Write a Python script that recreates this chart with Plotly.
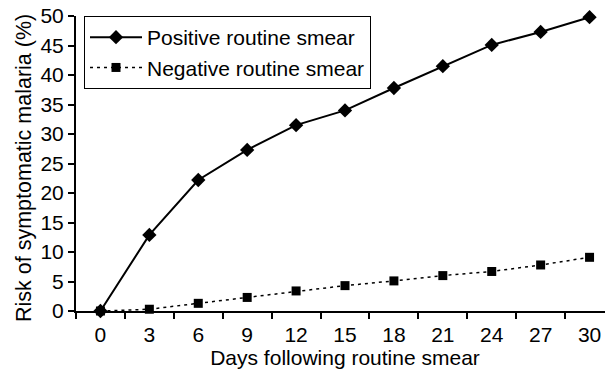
import plotly.graph_objects as go

days = ["0", "3", "6", "9", "12", "15", "18", "21", "24", "27", "30"]
positive = [0, 12.9, 22.2, 27.3, 31.5, 34.0, 37.8, 41.5, 45.1, 47.3, 49.8]
negative = [0, 0.3, 1.3, 2.3, 3.4, 4.3, 5.1, 6.0, 6.7, 7.8, 9.1]
y_ticks = [0, 5, 10, 15, 20, 25, 30, 35, 40, 45, 50]

FONT = "Liberation Sans, Arial, Helvetica, sans-serif"
FS = 21

# the page body adds an 8px offset, so margins are reduced by 8px
W, H = 613, 373
ML, MR, MT, MB = 68, 7, 8, 70
PW = W - ML - MR
PH = H - MT - MB

fig = go.Figure()
fig.add_trace(go.Scatter(
    x=days, y=positive, name="Positive routine smear", mode="lines+markers",
    line=dict(color="black", width=2),
    marker=dict(symbol="diamond", size=11, color="black"),
    cliponaxis=False,
))
fig.add_trace(go.Scatter(
    x=days, y=negative, name="Negative routine smear", mode="lines+markers",
    line=dict(color="black", width=1.5, dash="3px,4px"),
    marker=dict(symbol="square", size=9, color="black"),
    cliponaxis=False,
))

fig.add_annotation(
    text="Risk of symptomatic malaria (%)", textangle=-90,
    xref="paper", yref="paper",
    x=(16 - ML) / PW, y=(MT + PH - 160) / PH,
    xanchor="center", yanchor="middle", showarrow=False,
    font=dict(size=21.5, family=FONT, color="black"),
)

fig.update_layout(
    width=W, height=H,
    margin=dict(l=ML, r=MR, t=MT, b=MB),
    paper_bgcolor="white", plot_bgcolor="white",
    font=dict(family=FONT, size=FS, color="black"),
    showlegend=True,
    legend=dict(
        x=8 / PW, y=1.0, xanchor="left", yanchor="top",
        xref="paper", yref="paper",
        bordercolor="black", borderwidth=1, bgcolor="white",
        font=dict(size=FS, family=FONT),
        itemwidth=52,
    ),
    xaxis=dict(
        type="category", tickson="boundaries", range=[-0.5, 10.5],
        automargin=False,
        showline=True, linecolor="black", linewidth=2,
        ticks="outside", ticklen=6, tickwidth=1.5, tickcolor="black",
        ticklabelstandoff=4,
        showgrid=False, zeroline=False,
        title=dict(text="Days following routine smear", standoff=5,
                   font=dict(size=FS, family=FONT, color="black")),
    ),
    yaxis=dict(
        range=[0, 50], tickvals=y_ticks, automargin=False,
        ticklabeloverflow="allow",
        showline=True, linecolor="black", linewidth=2,
        ticks="outside", ticklen=6, tickwidth=1.5, tickcolor="black",
        showgrid=False, zeroline=False,
    ),
)

fig.write_html("out.html")
